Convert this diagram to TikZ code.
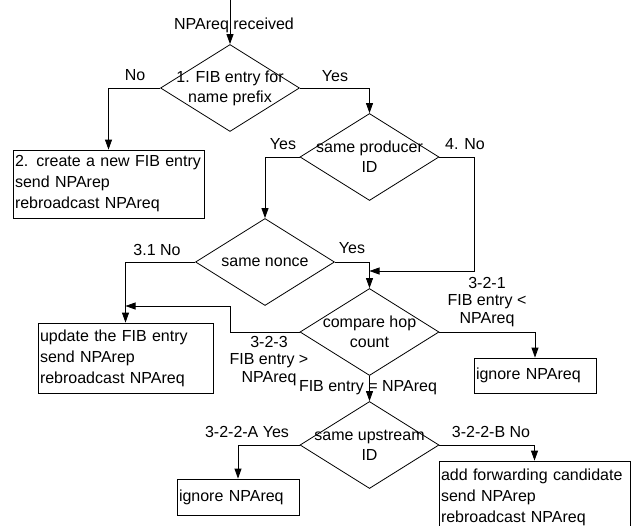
\documentclass[tikz,border=0pt]{standalone}
\usepackage{fontspec}
\setmainfont{Liberation Sans}
\usetikzlibrary{shapes.geometric,arrows.meta}

\begin{document}
\begin{tikzpicture}[x=1pt,y=-1pt,line width=0.8pt,font=\fontsize{16}{21}\selectfont,
    decision/.style={diamond,draw,minimum width=139pt,minimum height=87pt,inner sep=0pt},
    dtext/.style={align=center,inner sep=0pt,font=\fontsize{16}{20}\selectfont},
    actbox/.style={draw,align=left,inner xsep=2pt,inner ysep=0pt},
    lbl/.style={align=center,inner sep=0pt,font=\fontsize{16}{17.5}\selectfont},
    flow/.style={-{Triangle[length=10pt,width=7pt]}}]

\useasboundingbox (0,0) rectangle (637,525);

\foreach \n/\x/\y/\t in {fib/230/88/{1. FIB entry for\\name prefix},
                         prod/369.5/157/{same producer\\ID},
                         nonce/265/262/{same nonce},
                         hop/369.5/332/{compare hop\\count},
                         up/369.5/445/{same upstream\\ID}}
{
    \node[decision] (\n) at (\x,\y) {};
    \node[dtext] (\n-t) at (\n) {\t};
}

\node[actbox,text width=187pt,minimum height=68pt] (create) at (108.5,184) {2. create a new FIB entry\\send NPArep\\rebroadcast NPAreq};
\node[actbox,text width=171pt,minimum height=70pt] (update) at (125.5,358) {update the FIB entry\\send NPArep\\rebroadcast NPAreq};
\node[actbox,text width=118pt,minimum height=35pt] (ignA) at (535,375.5) {ignore NPAreq};
\node[actbox,text width=118pt,minimum height=36pt] (ignB) at (238,497) {ignore NPAreq};
\node[actbox,text width=187pt,minimum height=72pt] (add) at (534.5,497) {add forwarding candidate\\send NPArep\\rebroadcast NPAreq};

\coordinate (in) at (230,0);
\coordinate (join) at (369.5,271);
\coordinate (back) at (125.5,306);

\draw[flow] (in) -- (fib.north);
\draw[flow] (fib.west) -| (create.north);
\draw[flow] (fib.east) -| (prod.north);
\draw[flow] (prod.west) -| (nonce.north);
\draw[flow] (prod.east) -- ++(35,0) |- (join);
\draw[flow] (nonce.west) -| (update.north);
\draw[flow] (nonce.east) -| (hop.north);
\draw[flow] (hop.west) -- ++(-69,0) |- (back);
\draw[flow] (hop.east) -| (ignA.north);
\draw[flow] (hop.south) -- (up.north);
\draw[flow] (up.west) -| (ignB.north);
\draw[flow] (up.east) -| (add.north);

\node[lbl] (recv) at (234,25) {NPAreq received};
\node[lbl] (no1) at (135,75) {No};
\node[lbl] (yes1) at (335,76) {Yes};
\node[lbl] (yes2) at (283,144) {Yes};
\node[lbl] (no4) at (465,144) {4. No};
\node[lbl] (no31) at (157,250) {3.1 No};
\node[lbl] (yes3) at (352,248) {Yes};
\node[lbl] (c321) at (487,302) {3-2-1\\FIB entry <\\NPAreq};
\node[lbl] (c323) at (269,361) {3-2-3\\FIB entry >\\NPAreq};
\node[lbl] (c322) at (368,388) {FIB entry = NPAreq};
\node[lbl] (c322a) at (247,432) {3-2-2-A Yes};
\node[lbl] (c322b) at (491,432) {3-2-2-B No};

\end{tikzpicture}
\end{document}
